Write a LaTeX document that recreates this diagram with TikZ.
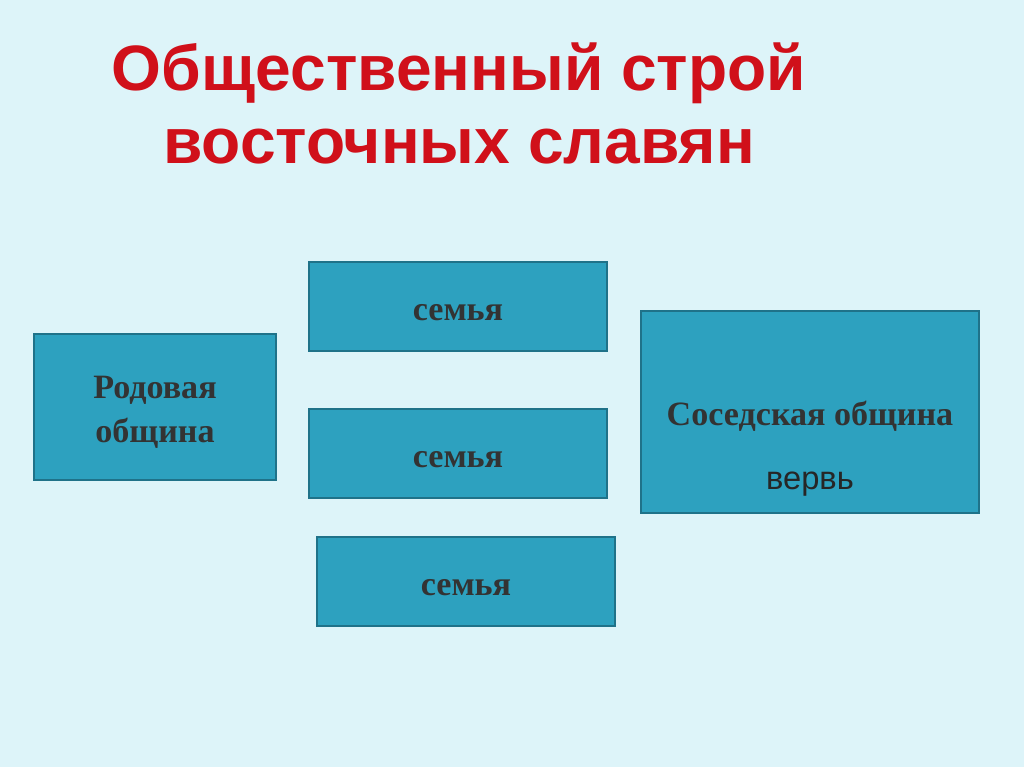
\documentclass[tikz,border=0pt]{standalone}
\usepackage{fontspec}
\setmainfont{Liberation Serif}
\setsansfont{Liberation Sans}
\usetikzlibrary{positioning}
\definecolor{bgcyan}{HTML}{DDF4F9}
\definecolor{boxfill}{HTML}{2DA1BF}
\definecolor{boxline}{HTML}{1F7289}
\definecolor{boxtext}{HTML}{333333}
\definecolor{titlered}{HTML}{D0101A}
\tikzset{box/.style={draw=boxline, line width=1.2pt, fill=boxfill, text=boxtext, font=\bfseries\fontsize{19.4}{25}\selectfont, align=center, inner sep=0pt},
  famiya/.style={box, minimum width=5.96cm, minimum height=1.78cm, text height=16pt, text depth=0pt}}

\begin{document}
\begin{tikzpicture}[x=0.02cm, y=-0.02cm]
      \fill[bgcyan] (0,0) rectangle (1024,767);
      \useasboundingbox (0,0) rectangle (1024,767);
      \node[text=titlered, font=\sffamily\bfseries\fontsize{36.5}{41.5}\selectfont, align=center] (title) at (459,103) {Общественный строй\\восточных славян};
      \node[box, minimum width=4.84cm, minimum height=2.92cm] (rod) at (155,407) {};
      \node[text=boxtext, font=\bfseries\fontsize{19.4}{25}\selectfont, align=center] (rodtxt) at (155,412) {Родовая\\община};
      \node[famiya] (sem1) at (458,306.5) {семья};
      \node[famiya, below=1.12cm of sem1] (sem2) {семья};
      \node[famiya] (sem3) at (466,581.5) {семья};
      \node[box, minimum width=6.76cm, minimum height=4.04cm] (sos) at (810,412) {};
      \node[text=boxtext, font=\bfseries\fontsize{19.4}{25}\selectfont] (sostxt) at (810,416) {Соседская община};
      \node[text=black!85, font=\sffamily\fontsize{18.6}{22}\selectfont] (verv) at (810,484) {вервь};
\end{tikzpicture}
\end{document}
